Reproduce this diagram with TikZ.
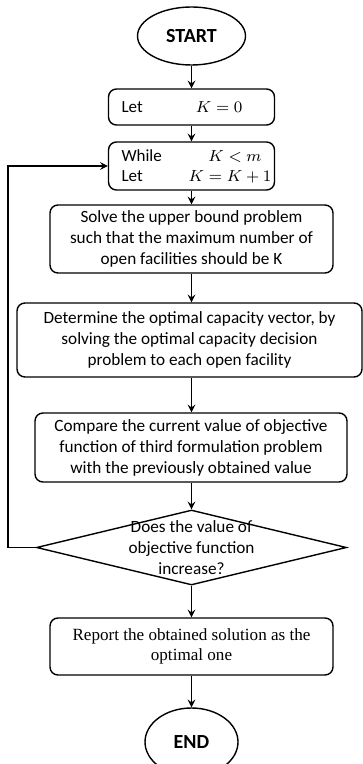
\documentclass[tikz,border=0pt]{standalone}
\usepackage{fontspec}
\setmainfont{Carlito}
\newfontfamily\timesfont{Liberation Serif}
\usetikzlibrary{shapes.geometric}
\begin{document}
\begin{tikzpicture}[x=0.5pt, y=-0.5pt,
    process/.style={draw, line width=0.7pt, rounded corners=4pt,
      align=center, inner sep=0pt, font=\fontsize{8.6}{10.5}\selectfont},
    terminal/.style={draw, line width=0.7pt, ellipse, inner sep=0pt,
      font=\fontsize{10}{12}\selectfont\bfseries},
    decision/.style={draw, line width=0.7pt, diamond, inner sep=0pt}]
  \useasboundingbox (0,0) rectangle (363,764);
  \node [terminal, minimum width=54pt, minimum height=29pt] (start) at
  (191.5,36) {START}; \node [process, minimum width=83pt, minimum
  height=18pt, text width=70pt, align=left,
  font=\fontsize{8.5}{10}\selectfont] (let) at (191.5,107)
  {Let\hfill$K=0$\hspace*{9.5pt}\mbox{}}; \node [process, minimum
  width=83pt, minimum height=24pt, text width=70pt, align=left,
  font=\fontsize{8.5}{10}\selectfont] (while) at (191.5,166)
  {While\hfill$K<m$\mbox{}\\Let\hfill$K=K+1$\hspace*{-5pt}\mbox{}};
  \node [process, minimum width=141.5pt, minimum height=34pt] (solve)
  at (191.5,239) {Solve the upper bound problem\\such that the maximum
    number of\\open facilities should be K}; \node [process, minimum
  width=172.5pt, minimum height=37pt] (determine) at (189.5,340)
  {Determine the optimal capacity vector, by\\solving the optimal
    capacity decision\\problem to each open facility}; \node [process,
  minimum width=156pt, minimum height=34.5pt] (compare) at (191,447.5)
  {Compare the current value of objective\\function of third
    formulation problem\\with the previously obtained value};
  \node [decision, minimum width=155pt, minimum height=37.5pt,
  label={[align=center, font=\fontsize{8.6}{10.5}\selectfont]center:Does
    the value of\\objective function\\increase?}] (dec) at (191.5,547.5)
  {}; \node [process, minimum width=141.5pt, minimum height=28.5pt,
  font=\timesfont\fontsize{8.55}{10}\selectfont] (report) at
  (191.5,646.5) {Report the obtained solution as the\\optimal one};
  \node [terminal, minimum width=46.5pt, minimum height=34pt] (end) at
  (191.5,742) {END};
  \coordinate (back) at (8,547.5);
  \begin{scope}[->, line width=0.7pt, >=stealth]
    \draw (start) to (let); \draw (let) to (while); \draw (while) to
    (solve); \draw (solve.south) to (solve.south |- determine.north);
    \draw (solve.south |- determine.south) to (compare.north -| solve.south);
    \draw (compare.south -| dec.north) to (dec); \draw (dec) to (report);
    \draw (report) to (end); \draw (dec.west) -- (back) |- (while.west);
  \end{scope}
\end{tikzpicture}
\end{document}
